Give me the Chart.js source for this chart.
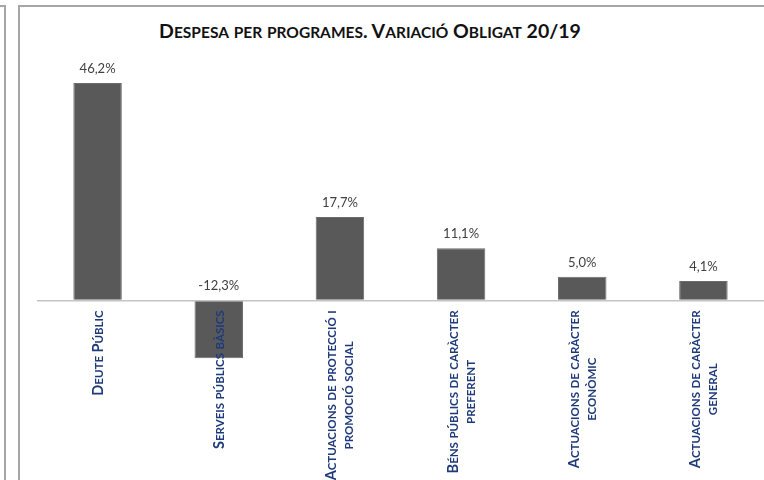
<!DOCTYPE html>
<html>
<head>
<meta charset="utf-8">
<script src="https://cdn.jsdelivr.net/npm/chart.js@4.4.1/dist/chart.umd.min.js"></script>
<style>
  html, body { margin: 0; padding: 0; background: #fff; }
  body { width: 764px; height: 480px; position: relative; overflow: hidden; }
  #panelEsq { position: absolute; left: -10px; top: 5px; width: 14px; height: 500px;
    border-top: 2px solid #a6a6a6; border-right: 2px solid #a6a6a6; }
  #marc { position: absolute; left: 18px; top: 5px; width: 800px; height: 500px;
    border-top: 2px solid #a6a6a6; border-left: 2px solid #a6a6a6; }
  #titol { position: absolute; left: 20px; width: 700px; top: 19px; text-align: center;
    font-family: Lato, "Open Sans", sans-serif; font-weight: bold; font-size: 19.5px;
    color: #111; letter-spacing: 0px; }
  #titol .p { font-size: 15.5px; }
  #grafic { position: absolute; left: 20px; top: 7px; width: 744px; height: 473px; }
</style>
</head>
<body>
<div id="panelEsq"></div>
<div id="marc"></div>
<div id="titol"></div>
<div id="grafic"><canvas id="c"></canvas></div>
<script>
const titol = "Despesa per programes. Variació Obligat 20/19";
const programes = [
  ["Deute Públic"],
  ["Serveis públics bàsics"],
  ["Actuacions de protecció i", "promoció social"],
  ["Béns públics de caràcter", "preferent"],
  ["Actuacions de caràcter", "econòmic"],
  ["Actuacions de caràcter", "general"]
];
const variacio = [46.2, -12.3, 17.7, 11.1, 5.0, 4.1];
const escalaMin = -15;
const escalaMax = 50;

const fmt = v => v.toFixed(1).replace(".", ",") + "%";

// versaletes fetes a mà: minúscules en majúscula petita
const esMinuscula = ch => ch !== ch.toUpperCase();
document.getElementById("titol").innerHTML = titol.split("").map(ch =>
  esMinuscula(ch) ? `<span class="p">${ch.toUpperCase()}</span>` : ch
).join("");

function trossos(text) {
  const out = [];
  for (const ch of text) {
    const petit = esMinuscula(ch);
    const last = out[out.length - 1];
    if (last && last.petit === petit) last.t += petit ? ch.toUpperCase() : ch;
    else out.push({ t: petit ? ch.toUpperCase() : ch, petit });
  }
  return out;
}

const midaGran = 14.5, midaPetita = 11.5;
const fontLabel = m => `bold ${m}px Lato, 'Open Sans', sans-serif`;

function ampladaLinia(ctx, linia) {
  return trossos(linia).reduce((s, tr) => {
    ctx.font = fontLabel(tr.petit ? midaPetita : midaGran);
    return s + ctx.measureText(tr.t).width;
  }, 0);
}

const etiquetes = {
  id: "etiquetes",
  afterDatasetsDraw(chart) {
    const ctx = chart.ctx;
    const meta = chart.getDatasetMeta(0);
    const y0 = chart.scales.y.getPixelForValue(0);
    ctx.save();
    ctx.font = "13px Lato, 'Open Sans', sans-serif";
    ctx.fillStyle = "#404040";
    ctx.textAlign = "center";
    ctx.textBaseline = "bottom";
    meta.data.forEach((bar, i) => {
      const top = Math.min(bar.y, y0);
      ctx.fillText(fmt(variacio[i]), bar.x, top - 8);
    });

    ctx.fillStyle = "#1f3a7a";
    ctx.textBaseline = "alphabetic";
    ctx.textAlign = "left";
    programes.forEach((linies, i) => {
      const x = chart.scales.x.getPixelForValue(i);
      const amples = linies.map(l => ampladaLinia(ctx, l));
      const ampMax = Math.max(...amples);
      const centre = y0 + 10 + ampMax / 2;
      linies.forEach((l, j) => {
        const dx = (j - (linies.length - 1) / 2) * 17;
        ctx.save();
        ctx.translate(x + dx + 5, centre);
        ctx.rotate(-Math.PI / 2);
        let pos = -amples[j] / 2;
        trossos(l).forEach(tr => {
          ctx.font = fontLabel(tr.petit ? midaPetita : midaGran);
          ctx.fillText(tr.t, pos, 0);
          pos += ctx.measureText(tr.t).width;
        });
        ctx.restore();
      });
    });
    ctx.restore();
  }
};

new Chart(document.getElementById("c"), {
  type: "bar",
  data: {
    labels: programes.map(p => p.join(" ")),
    datasets: [{
      data: variacio,
      backgroundColor: "#595959",
      borderColor: "#6b6b6b",
      borderWidth: 1,
      categoryPercentage: 1,
      barPercentage: 0.4
    }]
  },
  options: {
    responsive: true,
    maintainAspectRatio: false,
    animation: false,
    layout: { padding: { left: 17, right: 0, top: 58, bottom: 109 } },
    plugins: { legend: { display: false }, tooltip: { enabled: false } },
    scales: {
      x: { display: false, grid: { display: false } },
      y: {
        min: escalaMin,
        max: escalaMax,
        ticks: { display: false, stepSize: 5 },
        border: { display: false },
        grid: {
          drawTicks: false,
          color: c => c.tick.value === 0 ? "#c4c4c4" : "rgba(0,0,0,0)",
          lineWidth: 1.5
        }
      }
    }
  },
  plugins: [etiquetes]
});
</script>
</body>
</html>
